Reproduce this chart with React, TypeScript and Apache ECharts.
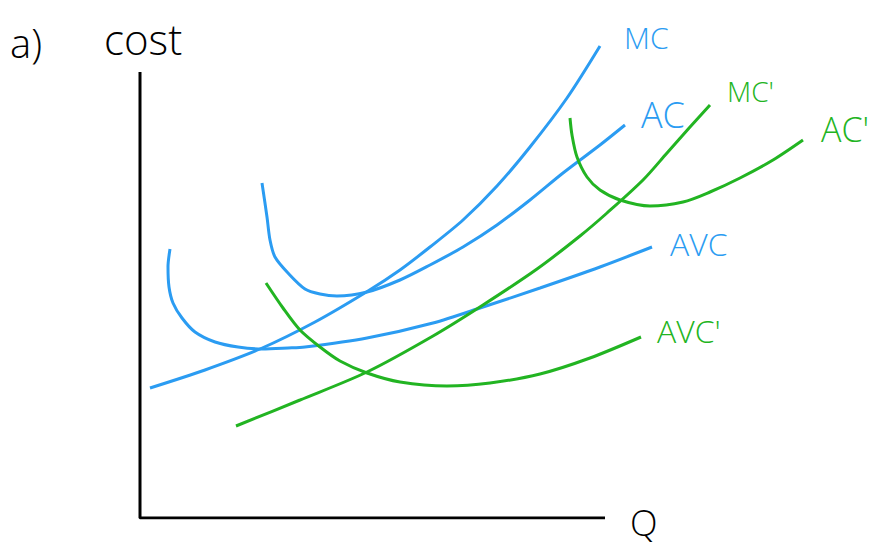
import React, { useEffect, useRef } from "react";
import * as echarts from "echarts";

// Q (quantity) and cost values
const mcData = [[1.0,13.0],[6.5,14.8],[12.0,16.9],[17.5,19.6],[22.8,22.7],[26.0,24.8],[29.0,27.1],[32.3,29.8],[35.7,33.2],[39.0,37.1],[42.7,42.0],[46.0,47.2]];
const acData = [[12.2,33.5],[12.7,30.1],[13.0,27.8],[13.5,26.1],[14.8,24.5],[16.5,22.9],[18.0,22.4],[19.7,22.2],[22.7,22.6],[26.0,23.8],[29.0,25.3],[32.3,27.1],[35.7,29.3],[39.0,31.8],[42.3,34.5],[46.0,37.3],[48.5,39.3]];
const avcData = [[3.0,26.9],[2.8,25.1],[2.9,23.1],[3.3,21.5],[4.2,20.0],[5.5,18.6],[7.5,17.6],[9.8,17.1],[12.2,16.9],[14.8,17.0],[16.5,17.1],[22.7,18.0],[29.3,19.5],[34.3,21.1],[40.0,23.0],[46.0,25.1],[51.2,27.1]];
const mc2Data = [[9.6,9.2],[16.0,11.8],[22.7,14.6],[29.3,18.2],[34.3,21.3],[39.7,24.9],[44.0,28.2],[46.7,30.5],[50.3,33.8],[52.7,36.5],[55.0,39.1],[57.0,41.3]];
const avc2Data = [[12.6,23.5],[14.3,21.0],[16.0,18.8],[18.0,17.1],[20.0,15.7],[22.7,14.5],[26.0,13.6],[30.7,13.2],[35.0,13.5],[40.0,14.4],[45.0,16.0],[50.1,18.1]];
const ac2Data = [[43.0,40.0],[43.2,38.3],[43.7,36.1],[44.7,34.1],[46.0,32.8],[48.0,31.8],[51.0,31.2],[54.3,31.6],[57.0,32.6],[60.0,34.0],[63.3,35.8],[66.3,37.8]];
const axesData = [[0,44.6],[0,0],[46.5,0]];

const BLUE = "#2b9cf2";
const GREEN = "#22b422";
const FONT = "'Open Sans', 'DejaVu Sans', sans-serif";

export default function App() {
  const ref = useRef<HTMLDivElement>(null);
  useEffect(() => {
    const chart = echarts.init(ref.current!, null, { renderer: "svg" });
    const curve = (name: string, data: number[][], color: string) => ({
      name,
      type: "line",
      data,
      smooth: 0.3,
      showSymbol: false,
      lineStyle: { color, width: 3 },
      silent: true,
    });
    const label = (text: string, x: number, y: number, size: number, color: string) => ({
      type: "text",
      x,
      y,
      style: { text, fill: color, font: `300 ${size}px ${FONT}`, verticalAlign: "middle", align: "left" },
    });
    chart.setOption({
      animation: false,
      backgroundColor: "#ffffff",
      grid: { left: 140, right: 37, top: 18, bottom: 27 },
      xAxis: { type: "value", min: 0, max: 70, show: false },
      yAxis: { type: "value", min: 0, max: 50, show: false },
      series: [
        { name: "axes", type: "line", data: axesData, showSymbol: false, lineStyle: { color: "#000", width: 3 }, silent: true },
        curve("MC", mcData, BLUE),
        curve("AC", acData, BLUE),
        curve("AVC", avcData, BLUE),
        curve("MC'", mc2Data, GREEN),
        curve("AC'", ac2Data, GREEN),
        curve("AVC'", avc2Data, GREEN),
      ],
      graphic: [
        label("a)", 10, 42, 40, "#000"),
        label("cost", 104, 38, 42, "#000"),
        label("Q", 630, 522, 36, "#000"),
        label("MC", 624, 37, 30, BLUE),
        label("AC", 641, 114, 36, BLUE),
        label("AVC", 670, 243, 32, BLUE),
        label("MC'", 727, 91, 28, GREEN),
        label("AC'", 821, 129, 34, GREEN),
        label("AVC'", 657, 330, 32, GREEN),
      ],
    });
    return () => chart.dispose();
  }, []);
  return <div ref={ref} style={{ position: "fixed", left: 0, top: 0, width: 877, height: 545 }} />;
}
